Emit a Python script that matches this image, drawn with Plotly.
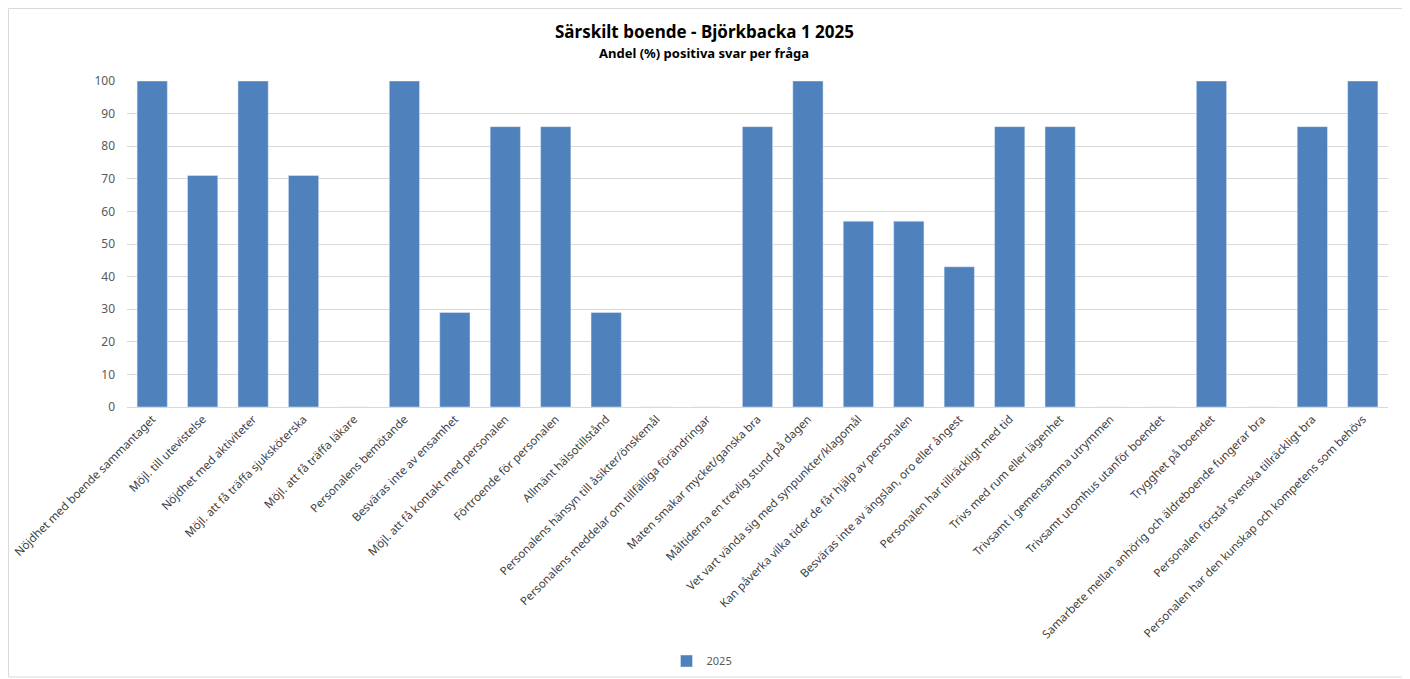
import plotly.graph_objects as go

categories = [
    "Nöjdhet med boende sammantaget",
    "Möjl. till utevistelse",
    "Nöjdhet med aktiviteter",
    "Möjl. att få träffa sjuksköterska",
    "Möjl. att få träffa läkare",
    "Personalens bemötande",
    "Besväras inte av ensamhet",
    "Möjl. att få kontakt med personalen",
    "Förtroende för personalen",
    "Allmänt hälsotillstånd",
    "Personalens hänsyn till åsikter/önskemål",
    "Personalens meddelar om tillfälliga förändringar",
    "Maten smakar mycket/ganska bra",
    "Måltiderna en trevlig stund på dagen",
    "Vet vart vända sig med synpunkter/klagomål",
    "Kan påverka vilka tider de får hjälp av personalen",
    "Besväras inte av ängslan, oro eller ångest",
    "Personalen har tillräckligt med tid",
    "Trivs med rum eller lägenhet",
    "Trivsamt i gemensamma utrymmen",
    "Trivsamt utomhus utanför boendet",
    "Trygghet på boendet",
    "Samarbete mellan anhörig och äldreboende fungerar bra",
    "Personalen förstår svenska tillräckligt bra",
    "Personalen har den kunskap och kompetens som behövs",
]
values_2025 = [100, 71, 100, 71, 0, 100, 29, 86, 86, 29, 0, 0, 86, 100, 57, 57, 43, 86, 86, 0, 0, 100, 0, 86, 100]
series_name = "2025"
title_text = "Särskilt boende - Björkbacka 1 2025"
subtitle_text = "Andel (%) positiva svar per fråga"

OFF = 8  # page body margin
W, H = 1400, 671
L, R, T, B = 119, 20, 73, 272
pw = W - L - R
ph = H - T - B

def px_x(p):
    return (p - OFF - L) / pw

def px_y(p):
    return (H - B - (p - OFF)) / ph

fig = go.Figure()
fig.add_trace(go.Bar(
    x=categories, y=values_2025, name=series_name,
    marker=dict(color="#4F81BD"),
))

fig.update_layout(
    width=W, height=H,
    margin=dict(l=L, r=R, t=T, b=B, autoexpand=False),
    paper_bgcolor="white", plot_bgcolor="white",
    font=dict(family="Noto Sans", color="#595959", size=11),
    bargap=0.4,
    showlegend=True,
    legend=dict(orientation="h", x=px_x(702), xanchor="center", y=px_y(661), yanchor="middle",
                font=dict(size=11, color="#595959"), itemwidth=30),
    xaxis=dict(tickangle=-45, showgrid=False, showline=True, linecolor="#D9D9D9",
               automargin=False,
               ticks="", tickfont=dict(size=11.5, color="#404040")),
    yaxis=dict(range=[0, 100], dtick=10, showgrid=True, gridcolor="#D9D9D9",
               automargin=False,
               zeroline=False, showline=False, ticks="", ticklabelstandoff=11,
               tickfont=dict(size=12, color="#595959")),
    annotations=[
        dict(text="<b>" + title_text + "</b>", xref="paper", yref="paper",
             x=px_x(704), y=px_y(31), xanchor="center", yanchor="middle",
             showarrow=False, font=dict(size=17, color="#000000")),
        dict(text="<b>" + subtitle_text + "</b>", xref="paper", yref="paper",
             x=px_x(704), y=px_y(53), xanchor="center", yanchor="middle",
             showarrow=False, font=dict(size=13, color="#000000")),
    ],
    shapes=[dict(type="rect", xref="paper", yref="paper",
                 x0=px_x(8.5), x1=px_x(1405), y0=px_y(677), y1=px_y(8.5),
                 line=dict(color="#D9D9D9", width=1), fillcolor="rgba(0,0,0,0)")],
)

fig.write_html("out.html")
